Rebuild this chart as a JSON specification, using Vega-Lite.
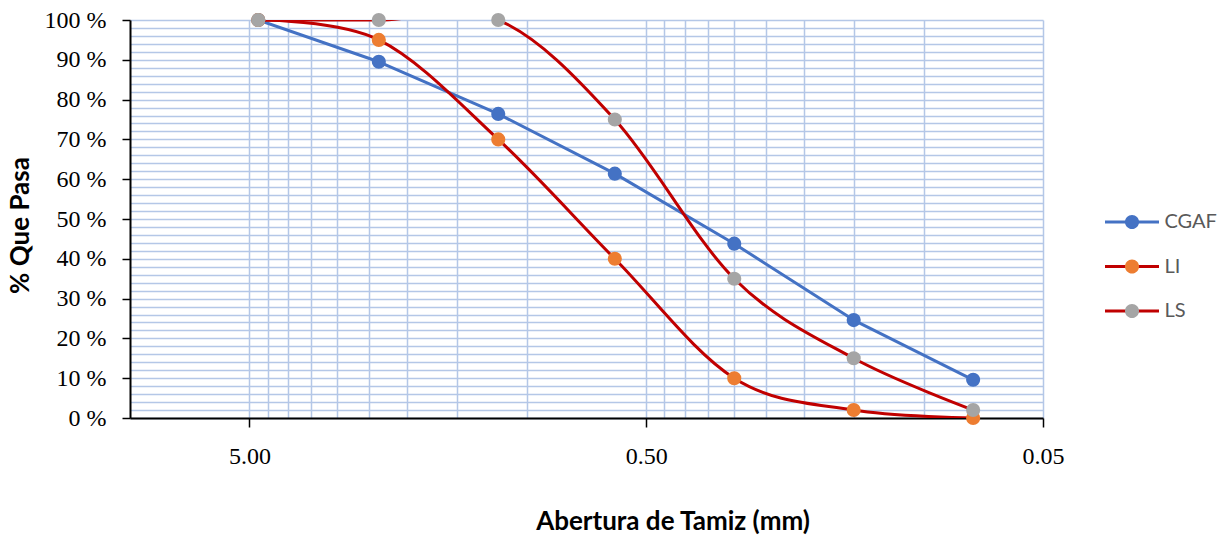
{
  "$schema": "https://vega.github.io/schema/vega-lite/v6.json",
  "width": 913,
  "height": 398,
  "autosize": {"type": "none"},
  "padding": {"left": 130, "top": 20, "right": 181, "bottom": 118},
  "background": "white",
  "config": {"view": {"stroke": null}},
  "data": {
    "values": [
      {"abertura": 4.75, "pasa": 100, "serie": "CGAF"},
      {"abertura": 2.36, "pasa": 89.5, "serie": "CGAF"},
      {"abertura": 1.18, "pasa": 76.4, "serie": "CGAF"},
      {"abertura": 0.6, "pasa": 61.4, "serie": "CGAF"},
      {"abertura": 0.3, "pasa": 43.8, "serie": "CGAF"},
      {"abertura": 0.15, "pasa": 24.6, "serie": "CGAF"},
      {"abertura": 0.075, "pasa": 9.6, "serie": "CGAF"},
      {"abertura": 4.75, "pasa": 100, "serie": "LI"},
      {"abertura": 2.36, "pasa": 95, "serie": "LI"},
      {"abertura": 1.18, "pasa": 70, "serie": "LI"},
      {"abertura": 0.6, "pasa": 40, "serie": "LI"},
      {"abertura": 0.3, "pasa": 10, "serie": "LI"},
      {"abertura": 0.15, "pasa": 2, "serie": "LI"},
      {"abertura": 0.075, "pasa": 0, "serie": "LI"},
      {"abertura": 4.75, "pasa": 100, "serie": "LS"},
      {"abertura": 2.36, "pasa": 100, "serie": "LS"},
      {"abertura": 1.18, "pasa": 100, "serie": "LS"},
      {"abertura": 0.6, "pasa": 75, "serie": "LS"},
      {"abertura": 0.3, "pasa": 35, "serie": "LS"},
      {"abertura": 0.15, "pasa": 15, "serie": "LS"},
      {"abertura": 0.075, "pasa": 2, "serie": "LS"}
    ]
  },
  "encoding": {
    "x": {
      "field": "abertura",
      "type": "quantitative",
      "scale": {"type": "log", "domain": [0.05, 10], "reverse": true, "nice": false, "zero": false},
      "axis": {
        "values": [5, 4.5, 4, 3.5, 3, 2.5, 2, 1.5, 1, 0.5, 0.45, 0.4, 0.35, 0.3, 0.25, 0.2, 0.15, 0.1, 0.05],
        "title": "Abertura de Tamiz (mm)",
        "titleFont": "Lato",
        "titleFontSize": 26,
        "titleFontWeight": "bold",
        "titleColor": "#000000",
        "titleX": 542.5,
        "titleY": 111,
        "titleBaseline": "alphabetic",
        "labelExpr": "datum.value == 5 || datum.value == 0.5 || datum.value == 0.05 ? format(datum.value, '.2f') : ''",
        "labelFont": "Liberation Serif",
        "labelFontSize": 24,
        "labelColor": "#000000",
        "labelBaseline": "alphabetic",
        "labelPadding": 36,
        "labelFlush": false,
        "labelOverlap": false,
        "labelBound": false,
        "tickSize": 9,
        "tickWidth": 1.5,
        "tickColor": "#000000",
        "tickOpacity": {"condition": {"test": "datum.value == 5 || datum.value == 0.5 || datum.value == 0.05", "value": 1}, "value": 0},
        "domainColor": "#000000",
        "domainWidth": 2,
        "grid": true,
        "gridColor": "#B4C7E7",
        "gridWidth": 1.5
      }
    },
    "y": {
      "field": "pasa",
      "type": "quantitative",
      "scale": {"domain": [0, 100], "nice": false},
      "axis": {
        "values": [0, 2, 4, 6, 8, 10, 12, 14, 16, 18, 20, 22, 24, 26, 28, 30, 32, 34, 36, 38, 40, 42, 44, 46, 48, 50, 52, 54, 56, 58, 60, 62, 64, 66, 68, 70, 72, 74, 76, 78, 80, 82, 84, 86, 88, 90, 92, 94, 96, 98, 100],
        "title": "% Que Pasa",
        "titleFont": "Lato",
        "titleFontSize": 26,
        "titleFontWeight": "bold",
        "titleColor": "#000000",
        "titleX": -102,
        "titleY": 205,
        "titleBaseline": "alphabetic",
        "labelExpr": "datum.value % 10 == 0 ? datum.value + ' %' : ''",
        "labelFont": "Liberation Serif",
        "labelFontSize": 24,
        "labelColor": "#000000",
        "labelPadding": 16,
        "labelOverlap": false,
        "labelFlush": false,
        "labelBound": false,
        "tickSize": 8,
        "tickWidth": 1.5,
        "tickColor": "#000000",
        "tickOpacity": {"condition": {"test": "datum.value % 10 == 0", "value": 1}, "value": 0},
        "domainColor": "#000000",
        "domainWidth": 2,
        "grid": true,
        "gridColor": "#B4C7E7",
        "gridWidth": 1.5
      }
    }
  },
  "layer": [
    {
      "transform": [{"filter": "datum.serie == 'CGAF'"}],
      "mark": {"type": "line", "clip": true, "strokeWidth": 3, "strokeCap": "round", "strokeJoin": "round"},
      "encoding": {
        "color": {
          "field": "serie",
          "type": "nominal",
          "scale": {"domain": ["CGAF", "LI", "LS"], "range": ["#4472C4", "#C00000", "#C00000"]},
          "legend": {
            "orient": "none",
            "legendX": 973.5,
            "legendY": 187,
            "title": null,
            "padding": 0,
            "clipHeight": 30,
            "symbolType": "M-1,0L1,0",
            "symbolSize": 2916,
            "symbolStrokeWidth": 3,
            "symbolFillColor": "transparent",
            "labelFont": "Lato",
            "labelFontSize": 20,
            "labelColor": "#595959",
            "labelOffset": 4,
            "rowPadding": 14.5,
            "zindex": 0
          }
        }
      }
    },
    {
      "transform": [{"filter": "datum.serie != 'CGAF'"}],
      "mark": {"type": "line", "clip": true, "strokeWidth": 3, "interpolate": "cardinal", "tension": 0, "strokeCap": "round", "strokeJoin": "round"},
      "encoding": {
        "color": {"field": "serie", "type": "nominal"}
      }
    },
    {
      "mark": {"type": "point", "filled": true, "shape": "circle", "size": 200, "opacity": 1, "strokeWidth": 0},
      "encoding": {
        "fill": {
          "field": "serie",
          "type": "nominal",
          "scale": {"range": ["#4472C4", "#ED7D31", "#A5A5A5"]},
          "legend": {
            "orient": "none",
            "legendX": 973.5,
            "legendY": 187,
            "title": null,
            "padding": 0,
            "clipHeight": 30,
            "symbolType": "M-0.26,0A0.26,0.26,0,1,0,0.26,0A0.26,0.26,0,1,0,-0.26,0Z",
            "symbolSize": 2916,
            "symbolStrokeWidth": 3,
            "symbolStrokeColor": "transparent",
            "symbolOpacity": 1,
            "labelFont": "Lato",
            "labelFontSize": 20,
            "labelColor": "transparent",
            "labelOffset": 4,
            "rowPadding": 14.5,
            "zindex": 1
          }
        }
      }
    }
  ]
}
